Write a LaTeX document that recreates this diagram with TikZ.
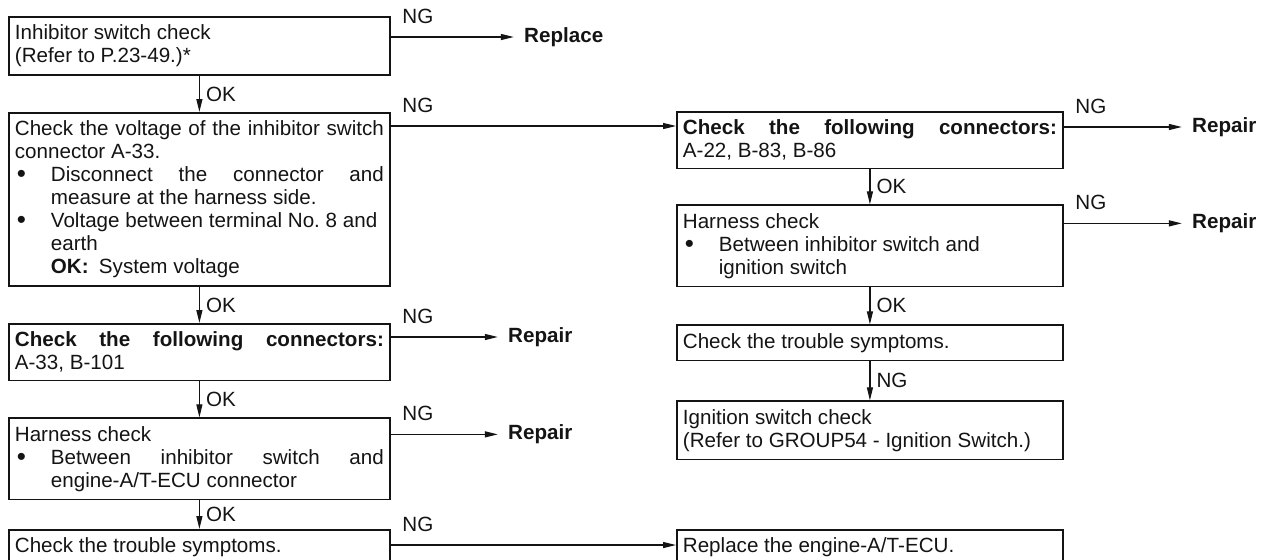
\documentclass[tikz,border=0pt]{standalone}
\usepackage{fontspec}
\setmainfont{Liberation Sans}
\usetikzlibrary{arrows.meta, positioning}
\definecolor{ink}{HTML}{141414}
\tikzset{
  box/.style     = {draw=ink, line width=0.9pt, rectangle, inner xsep=3pt, inner ysep=4pt,
                    align=justify, text width=184.5pt, text=ink,
                    font=\fontsize{10.3}{11.5}\selectfont},
  boxwide/.style = {box, text width=187pt},
  flow/.style    = {-{Triangle[length=6.5pt, width=3pt]}, draw=ink, line width=0.6pt},
  tag/.style     = {font=\fontsize{10.3}{12}\selectfont, text=ink, inner sep=0pt},
  result/.style  = {font=\fontsize{10.3}{12}\selectfont\bfseries, text=ink,
                    inner xsep=5pt, inner ysep=0pt, anchor=west},
}
\newcommand{\bitem}[1]{\par\noindent\hangindent=18pt\hangafter=1\makebox[18pt][l]{\hspace{1pt}\raisebox{-0.4pt}{\fontsize{13}{13}\selectfont\textbullet}}#1\par}

\begin{document}
\begin{tikzpicture}[x=0.5pt, y=-0.5pt]
  \useasboundingbox (0,0) rectangle (1261,559);

  % left column
  \node[box, anchor=north west] (insw) at (8,16) {Inhibitor switch check\newline (Refer to P.23-49.)*};
  \node[box, below=18pt of insw] (volt) {Check the voltage of the inhibitor switch\linebreak connector A-33.
    \bitem{Disconnect the connector and\linebreak measure at the harness side.}
    \bitem{Voltage between terminal No.~8 and\newline earth\newline \textbf{OK:}\enspace System voltage}};
  \node[box, below=18pt of volt] (conna) {\textbf{Check the following connectors:}\linebreak A-33, B-101};
  \node[box, below=18pt of conna] (harna) {Harness check
    \bitem{Between inhibitor switch and\linebreak engine-A/T-ECU connector}};
  \node[box, anchor=north west] (troua) at (8,529) {Check the trouble symptoms.};

  % right column
  \node[boxwide, anchor=north west] (connb) at (676,111) {\textbf{Check the following connectors:}\linebreak A-22, B-83, B-86};
  \node[boxwide, below=17.5pt of connb] (harnb) {Harness check
    \bitem{Between inhibitor switch and\newline ignition switch}};
  \node[boxwide, below=18.5pt of harnb] (troub) {Check the trouble symptoms.};
  \node[boxwide, below=19.5pt of troub] (ignsw) {Ignition switch check\newline (Refer to GROUP54 - Ignition Switch.)};
  \node[boxwide, anchor=north west] (ecu) at (troua.north -| connb.west) {Replace the engine-A/T-ECU.};

  % outcomes
  \node[result] (replace) at ([xshift=61.5pt, yshift=-10.5pt]insw.north east) {Replace};
  \node[result] (repa1) at ([xshift=53.5pt, yshift=-7pt]conna.north east) {Repair};
  \node[result] (repa2) at ([xshift=53.5pt, yshift=-8.5pt]harna.north east) {Repair};
  \node[result] (repb1) at ([xshift=59pt, yshift=-8pt]connb.north east) {Repair};
  \node[result] (repb2) at ([xshift=59pt, yshift=-9.5pt]harnb.north east) {Repair};

  % OK steps
  \draw[flow] (insw.south) -- (volt.north) node[tag, midway, anchor=west, xshift=3pt] (ok1) {OK};
  \draw[flow] (volt.south) -- (conna.north) node[tag, midway, anchor=west, xshift=3pt] (ok2) {OK};
  \draw[flow] (conna.south) -- (harna.north) node[tag, midway, anchor=west, xshift=3pt] (ok3) {OK};
  \draw[flow] (harna.south) -- (troua.north) node[tag, midway, anchor=west, xshift=3pt] (ok4) {OK};
  \draw[flow] (connb.south) -- (harnb.north) node[tag, midway, anchor=west, xshift=3pt] (ok5) {OK};
  \draw[flow] (harnb.south) -- (troub.north) node[tag, midway, anchor=west, xshift=3pt] (ok6) {OK};
  \draw[flow] (troub.south) -- (ignsw.north) node[tag, midway, anchor=west, xshift=3pt] (ng9) {NG};

  % NG branches
  \coordinate (ngv) at ([yshift=-7pt]volt.north east);
  \coordinate (ngt) at ([yshift=-8pt]troua.north east);
  \draw[flow] (replace.west -| insw.east) -- (replace.west)
    node[tag, pos=0, anchor=south west, xshift=5.5pt, yshift=6.5pt] (ng1) {NG};
  \draw[flow] (ngv) -- (ngv -| connb.west)
    node[tag, pos=0, anchor=south west, xshift=5.5pt, yshift=6.5pt] (ng2) {NG};
  \draw[flow] (repa1.west -| conna.east) -- (repa1.west)
    node[tag, pos=0, anchor=south west, xshift=5.5pt, yshift=6.5pt] (ng3) {NG};
  \draw[flow] (repa2.west -| harna.east) -- (repa2.west)
    node[tag, pos=0, anchor=south west, xshift=5.5pt, yshift=6.5pt] (ng4) {NG};
  \draw[flow] (ngt) -- (ngt -| ecu.west)
    node[tag, pos=0, anchor=south west, xshift=5.5pt, yshift=6.5pt] (ng5) {NG};
  \draw[flow] (repb1.west -| connb.east) -- (repb1.west)
    node[tag, pos=0, anchor=south west, xshift=5.5pt, yshift=6.5pt] (ng6) {NG};
  \draw[flow] (repb2.west -| harnb.east) -- (repb2.west)
    node[tag, pos=0, anchor=south west, xshift=5.5pt, yshift=6.5pt] (ng7) {NG};
\end{tikzpicture}
\end{document}
